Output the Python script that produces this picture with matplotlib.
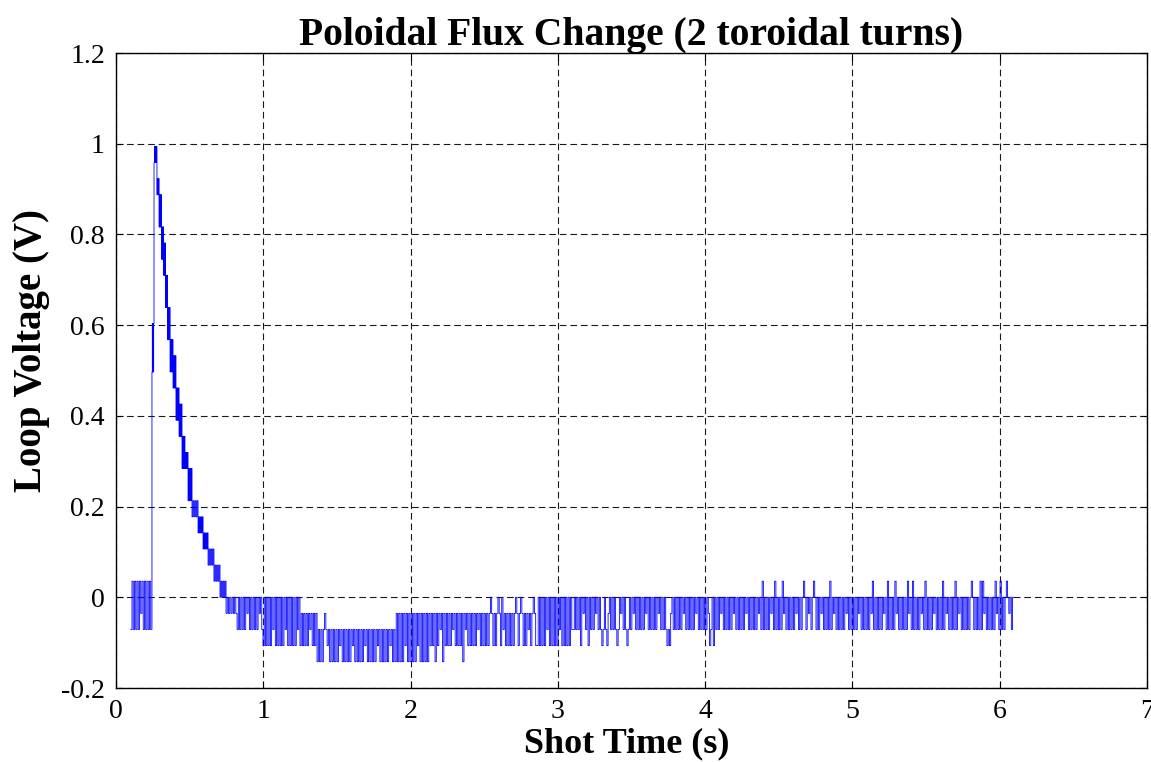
import numpy as np
import matplotlib
matplotlib.use("Agg")
import matplotlib.pyplot as plt

# Loop-voltage record, stored as ADC codes (volts = code * LSB)
LSB = 0.0355

# Segment edges (s); within each segment the digitiser toggles between
# its lowest and highest code
seg_edges = [0.100, 0.244, 0.258, 0.278, 0.292, 0.309, 0.323, 0.336, 0.350,
             0.367, 0.387, 0.407, 0.428, 0.448, 0.468, 0.489, 0.516, 0.557,
             0.591, 0.625, 0.665, 0.706, 0.747, 0.822, 0.998, 1.249, 1.365,
             1.894, 2.132, 2.858, 3.103, 6.096]
code_lo = [-2, 14, 27, 25, 23, 21, 20, 18, 16, 14, 13, 11, 10, 8, 8, 6, 5, 4,
           3, 2, 1, 0, -1, -2, -3, -3, -4, -4, -3, -3, -2]
code_hi = [1, 17, 28, 26, 25, 23, 22, 20, 18, 16, 15, 13, 12, 10, 9, 8, 6, 5,
           4, 3, 2, 1, 0, 0, 0, -1, -2, -1, -1, 0, 0]

# Isolated single-sample excursions outside the usual band
spike_t = [1.419, 2.166, 2.220, 2.356, 2.539, 2.593, 2.620, 2.709, 2.743,
           2.831, 3.150, 3.204, 3.299, 3.333, 3.401, 3.469, 3.741, 3.761,
           4.033, 4.053, 4.386, 4.474, 4.521, 4.664, 4.732, 4.847, 5.139,
           5.234, 5.289, 5.370, 5.411, 5.492, 5.608, 5.614, 5.696, 5.811,
           5.866, 5.886, 5.967, 6.001, 6.049]
spike_code = [-1, -4, -4, -4, 0, 0, 0, 0, 0,
              0, -3, -3, -3, -3, -3, -3, -3, -3,
              -3, -3, 1, 1, 1, 1, 1, 1, 1,
              1, 1, 1, 1, 1, 1, 1, 1, 1,
              1, 1, 1, 1, 1]

x_ticks = [0, 1, 2, 3, 4, 5, 6, 7]
y_ticks = [-0.2, 0, 0.2, 0.4, 0.6, 0.8, 1.0, 1.2]
y_tick_labels = ["-0.2", "0", "0.2", "0.4", "0.6", "0.8", "1", "1.2"]

# Build the sample stream
times, codes = [], []
for i in range(len(code_lo)):
    t0, t1 = seg_edges[i], seg_edges[i + 1]
    lo, hi = code_lo[i], code_hi[i]
    n = max(6, int(round((t1 - t0) / 0.0085)))
    ts = np.linspace(t0, t1, n, endpoint=False)
    mid = (lo + hi) // 2
    for k, tt in enumerate(ts):
        if k % 2:
            c = hi
        else:
            c = mid if (hi - lo >= 2 and (k // 2) % 5 == 4) else lo
        times.append(tt)
        codes.append(c)
times = np.array(times)
codes = np.array(codes, dtype=float)
for st, sc in zip(spike_t, spike_code):
    j = int(np.argmin(np.abs(times - st)))
    codes[j] = sc
times = np.append(times, seg_edges[-1])
codes = np.append(codes, codes[-1])
volts = codes * LSB

serif = ["Liberation Serif", "DejaVu Serif"]
plt.rcParams["font.family"] = serif

fig = plt.figure(figsize=(11.51, 7.62), dpi=100)
ax = fig.add_axes([0.1008, 0.0971, 0.8957, 0.8333])

ax.plot(times, volts, color=(0, 0, 1), lw=0.6, drawstyle="steps-post")

ax.set_xlim(0, 7)
ax.set_ylim(-0.2, 1.2)
ax.set_xticks(x_ticks)
ax.set_xticklabels([str(v) for v in x_ticks])
ax.set_yticks(y_ticks)
ax.set_yticklabels(y_tick_labels)
ax.tick_params(direction="in", length=5, width=0.8, labelsize=20,
               top=True, right=True, pad=8)
for sp in ax.spines.values():
    sp.set_linewidth(1.0)
    sp.set_color("black")

ax.grid(True, color="0.1", linestyle=(0, (6, 3.5)), linewidth=0.8)
ax.set_axisbelow(True)

ax.set_title("Poloidal Flux Change (2 toroidal turns)", fontsize=28.5,
             fontweight="bold", pad=6)
ax.set_xlabel("Shot Time (s)", fontsize=26, fontweight="bold")
ax.set_ylabel("Loop Voltage (V)", fontsize=28, fontweight="bold")
ax.xaxis.set_label_coords(0.495, -0.088)
ax.xaxis.label.set_va("center")
ax.yaxis.set_label_coords(-0.082, 0.532)
ax.yaxis.label.set_va("center")

fig.savefig("out.png", dpi=100)
